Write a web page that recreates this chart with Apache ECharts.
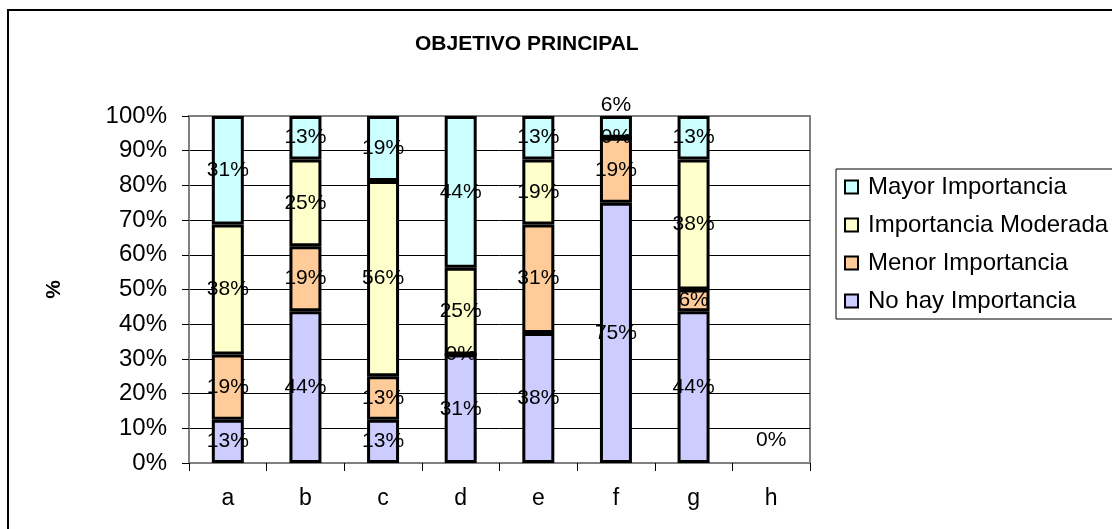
<!DOCTYPE html>
<html>
<head>
<meta charset="utf-8">
<script src="https://cdn.jsdelivr.net/npm/echarts@6/dist/echarts.min.js"></script>
<style>
  html, body { margin: 0; padding: 0; background: #fff; }
  #main { width: 1112px; height: 529px; }
</style>
</head>
<body>
<div id="main"></div>
<script>
var categories = ["a", "b", "c", "d", "e", "f", "g", "h"];
// porcentajes por categoría (16 respuestas)
var noHay = [12.5, 43.75, 12.5, 31.25, 37.5, 75, 43.75, 0];
var menor = [18.75, 18.75, 12.5, 0, 31.25, 18.75, 6.25, null];
var moderada = [37.5, 25, 56.25, 25, 18.75, 0, 37.5, null];
var mayor = [31.25, 12.5, 18.75, 43.75, 12.5, 6.25, 12.5, null];
var yTicks = [0, 10, 20, 30, 40, 50, 60, 70, 80, 90, 100];

var myChart = echarts.init(document.getElementById("main"));
var font = "'Liberation Sans', Arial, sans-serif";

function makeSeries(name, values, color, isTop) {
  return {
    name: name,
    type: "bar",
    stack: "total",
    barWidth: 32,
    data: values.map(function (v, i) {
      // la categoría sin respuestas muestra su 0% por encima del eje, sin barra
      if (v === 0 && categories[i] === "h") {
        return {
          value: v,
          itemStyle: { color: "rgba(0,0,0,0)", borderWidth: 0 },
          label: { position: "top", distance: 12 }
        };
      }
      // segmento superior muy pequeño: etiqueta encima de la barra
      if (isTop && v !== null && v < 10) {
        return { value: v, label: { position: "top", distance: 0 } };
      }
      return v;
    }),
    itemStyle: { color: color, borderColor: "#000", borderWidth: 3 },
    label: {
      show: true,
      position: "inside",
      color: "#000",
      fontFamily: font,
      fontSize: 21,
      formatter: function (p) {
        return Math.round(p.value) + "%";
      }
    }
  };
}

var option = {
  backgroundColor: "#fff",
  animation: false,
  title: {
    text: "OBJETIVO PRINCIPAL",
    left: 415,
    top: 34,
    padding: 0,
    textStyle: { fontFamily: font, fontSize: 21, fontWeight: "bold", color: "#000" }
  },
  graphic: [
    {
      type: "rect",
      shape: { x: 8, y: 10, width: 1200, height: 600 },
      style: { fill: null, stroke: "#000", lineWidth: 2 },
      silent: true,
      z: -1
    }
  ],
  legend: {
    orient: "vertical",
    left: 836,
    top: 169,
    padding: [6, 8, 6, 8],
    itemGap: 14,
    itemWidth: 13,
    itemHeight: 13,
    borderColor: "#000",
    borderWidth: 1,
    icon: "rect",
    itemStyle: { borderColor: "#000", borderWidth: 2 },
    textStyle: { fontFamily: font, fontSize: 24, color: "#000", lineHeight: 24, padding: [0, 0, 0, 5] },
    data: ["Mayor Importancia", "Importancia Moderada", "Menor Importancia", "No hay Importancia"]
  },
  grid: {
    left: 189,
    right: 302,
    top: 116,
    bottom: 66,
    show: true,
    borderColor: "#808080",
    borderWidth: 2,
    backgroundColor: "#fff"
  },
  xAxis: {
    type: "category",
    data: categories,
    axisLine: { lineStyle: { color: "#808080", width: 2 } },
    axisTick: { show: true, length: 8, lineStyle: { color: "#000" } },
    axisLabel: { fontFamily: font, fontSize: 23, color: "#000", margin: 24 }
  },
  yAxis: {
    type: "value",
    min: yTicks[0],
    max: yTicks[yTicks.length - 1],
    interval: yTicks[1] - yTicks[0],
    name: "%",
    nameLocation: "middle",
    nameGap: 124,
    nameRotate: 90,
    nameTextStyle: { fontFamily: font, fontSize: 21, fontWeight: "bold", color: "#000" },
    axisLine: { show: true, lineStyle: { color: "#808080", width: 2 } },
    axisTick: { show: true, length: 7, lineStyle: { color: "#000" } },
    axisLabel: { fontFamily: font, fontSize: 24, color: "#000", margin: 22, formatter: "{value}%" },
    splitLine: { show: true, showMinLine: false, showMaxLine: false, lineStyle: { color: "#000", width: 1 } }
  },
  series: [
    makeSeries("No hay Importancia", noHay, "#CCCCFF", false),
    makeSeries("Menor Importancia", menor, "#FFCC99", false),
    makeSeries("Importancia Moderada", moderada, "#FFFFCC", false),
    makeSeries("Mayor Importancia", mayor, "#CCFFFF", true)
  ]
};

myChart.setOption(option);
</script>
</body>
</html>
